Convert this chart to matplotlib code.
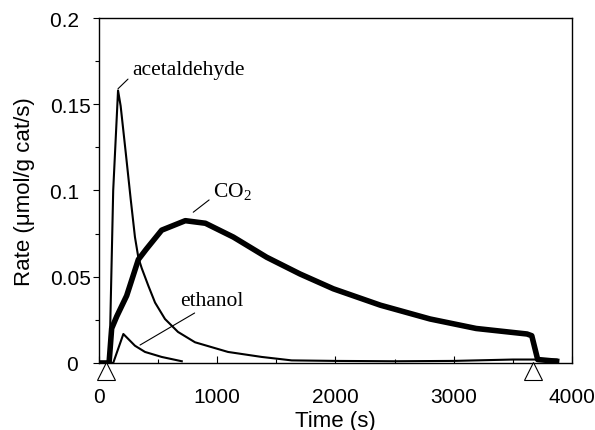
import matplotlib
matplotlib.use("Agg")
import matplotlib.pyplot as plt
from matplotlib.ticker import MultipleLocator, FuncFormatter
from matplotlib.transforms import offset_copy

plt.rcParams['font.family'] = ['Liberation Sans', 'DejaVu Sans']

# values (time in s, rate in umol/g cat/s)
acet_t = [0, 88, 120, 161, 183, 226, 268, 304, 333, 361, 417, 474, 558, 668, 812, 1091, 1376, 1630,
          2000, 2500, 3000, 3500, 3870]
acet_r = [0, 0, 0.100, 0.158, 0.149, 0.122, 0.095, 0.073, 0.061, 0.055, 0.0448, 0.035, 0.0255,
          0.018, 0.012, 0.0064, 0.0035, 0.0015, 0.0012, 0.0010, 0.0012, 0.0020, 0.0020]

co2_t = [0, 85, 107, 150, 234, 333, 400, 530, 730, 900, 1136, 1418, 1700, 1982, 2380, 2800, 3190, 3620,
         3660, 3710, 3870]
co2_r = [0, 0, 0.020, 0.027, 0.039, 0.060, 0.066, 0.077, 0.0825, 0.081, 0.073, 0.0613, 0.0516, 0.043,
         0.0335, 0.0255, 0.020, 0.0168, 0.0158, 0.002, 0.001]

eth_t = [0, 120, 206, 304, 389, 530, 700]
eth_r = [0, 0, 0.0168, 0.010, 0.0064, 0.0035, 0.0010]

switch_t = [63, 3670]  # open triangles under the axis

fig = plt.figure(figsize=(5.95, 4.31), dpi=100)
ax = fig.add_axes([0.1664, 0.1555, 0.7949, 0.8004])

ax.plot(co2_t, co2_r, color='black', lw=4.0, solid_joinstyle='round')
ax.plot(acet_t, acet_r, color='black', lw=1.5)
ax.plot(eth_t, eth_r, color='black', lw=1.5)

tri = offset_copy(ax.transData, fig=fig, x=0, y=-8.5, units='dots')
ax.plot(switch_t, [0] * len(switch_t), linestyle='none', marker='^', markersize=13.5,
        mfc='white', mec='black', mew=0.8, transform=tri, clip_on=False, zorder=5)

serif = dict(family='Liberation Serif', fontsize=15.5)
arrow = dict(arrowstyle='-', color='black', lw=0.8, shrinkA=1, shrinkB=0)
ax.annotate('acetaldehyde', xy=(161, 0.159), xytext=(277, 0.170), ha='left', va='center',
            arrowprops=dict(arrow, relpos=(0, 0.2)), **serif)
ax.annotate(r'CO$_\mathregular{2}$', xy=(797, 0.0874), xytext=(964, 0.0994), ha='left', va='center',
            arrowprops=dict(arrow, relpos=(0, 0.25)), **serif)
ax.annotate('ethanol', xy=(347, 0.0104), xytext=(685, 0.0365), ha='left', va='center',
            arrowprops=dict(arrow, relpos=(0.35, 0.05)), **serif)

ax.set_xlim(0, 4000)
ax.set_ylim(0, 0.2)
ax.xaxis.set_major_locator(MultipleLocator(1000))
ax.xaxis.set_minor_locator(MultipleLocator(500))
ax.yaxis.set_major_locator(MultipleLocator(0.05))
ax.yaxis.set_minor_locator(MultipleLocator(0.025))


def ylab(v, p):
    s = '%g' % round(v, 3)
    # the original keeps one-decimal labels shifted left by a digit
    if len(s) < 4:
        s += '\u2007'
    return s


ax.yaxis.set_major_formatter(FuncFormatter(ylab))

ax.tick_params(axis='x', which='both', direction='in', labelsize=15, pad=17)
ax.tick_params(axis='x', which='major', length=5, width=0.8)
ax.tick_params(axis='x', which='minor', length=3, width=0.8)
ax.tick_params(axis='y', which='both', direction='out', labelsize=15, pad=2)
ax.tick_params(axis='y', which='major', length=4, width=0.8)
ax.tick_params(axis='y', which='minor', length=3, width=0.8)

for s in ax.spines.values():
    s.set_linewidth(1.0)

ax.set_xlabel('Time (s)', fontsize=16, labelpad=3)
ax.set_ylabel('Rate (μmol/g cat/s)', fontsize=16, labelpad=11)

fig.savefig('out.png', dpi=100)
